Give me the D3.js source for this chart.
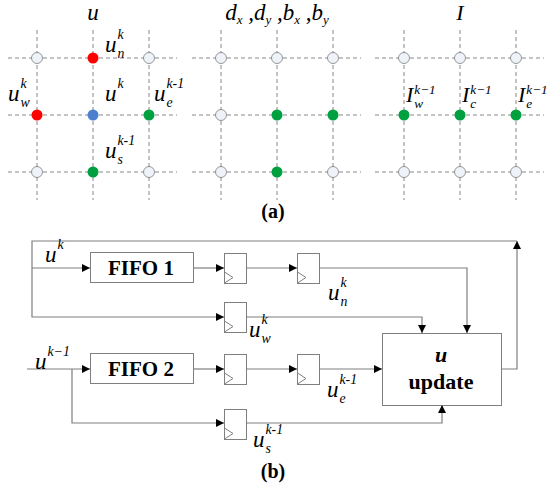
<!DOCTYPE html>
<html>
<head>
<meta charset="utf-8">
<script src="https://cdn.jsdelivr.net/npm/d3@7"></script>
<style>
  body { margin: 0; background: #fff; }
</style>
</head>
<body>
<div id="chart"></div>
<script>
// ---- panel (a): stencil grids ----
const gridIndex = [0, 1, 2];
const panelTitles = ["u", "d", "I"];
const panelLeft = [37, 221, 404];
// dot colour per panel, row-major (top row first)
const dotsU = ["none", "red", "none", "red", "blue", "green", "none", "green", "none"];
const dotsD = ["none", "none", "none", "none", "green", "green", "none", "green", "none"];
const dotsI = ["none", "none", "none", "green", "green", "green", "none", "none", "none"];
const dotSets = [dotsU, dotsD, dotsI];

// labels: [base, sup, sub, col, row]
const labelsU = [["u", "k", "n", 1, 0], ["u", "k", "w", 0, 1], ["u", "k", "", 1, 1],
                 ["u", "k-1", "e", 2, 1], ["u", "k-1", "s", 1, 2]];
const labelsI = [["I", "k\u22121", "w", 0, 1], ["I", "k\u22121", "c", 1, 1], ["I", "k\u22121", "e", 2, 1]];

// ---- panel (b): block diagram ----
const fifoNames = ["FIFO 1", "FIFO 2"];
const fifoRows = [268, 369];
const registers = [[224, 253], [297, 253], [224, 302], [224, 354], [297, 354], [224, 409]];
const wires = [
  [[501, 369], [517, 369], [517, 241]],
  [[517, 241], [32, 241], [32, 317], [224, 317]],
  [[32, 268], [90, 268]],
  [[193, 268], [224, 268]],
  [[246, 268], [297, 268]],
  [[320, 268], [467, 268], [467, 333]],
  [[246, 317], [422, 317], [422, 333]],
  [[27, 369], [90, 369]],
  [[72, 369], [72, 423], [224, 423]],
  [[193, 369], [224, 369]],
  [[246, 369], [297, 369]],
  [[319, 369], [382, 369]],
  [[246, 423], [442, 423], [442, 405]]
];
// [base, sup, sub, x, y]
const wireLabels = [["u", "k", "", 45, 262], ["u", "k\u22121", "", 35, 369],
                    ["u", "k", "n", 328, 300], ["u", "k", "w", 249, 337],
                    ["u", "k-1", "e", 327, 397], ["u", "k-1", "s", 253, 447]];

const dotColor = { red: "#ff0000", blue: "#4f7fcf", green: "#00a040", none: "#eef2f9" };

const svg = d3.select("#chart").append("svg")
  .attr("width", 548).attr("height", 487);

svg.append("defs").append("marker")
  .attr("id", "arrow")
  .attr("viewBox", "0 0 10 10")
  .attr("refX", 10).attr("refY", 5)
  .attr("markerUnits", "userSpaceOnUse")
  .attr("markerWidth", 9).attr("markerHeight", 8)
  .attr("orient", "auto")
  .append("path").attr("d", "M0,0L10,5L0,10z").attr("fill", "#000");

function txt(g) {
  return g.append("text").style("font-family", "Liberation Serif");
}

function mathLabel(g, x, y, base, sup, sub, size, supDy) {
  const b = txt(g).attr("x", x).attr("y", y)
    .attr("font-size", size).attr("font-style", "italic").text(base);
  const w = b.node().getComputedTextLength();
  if (sup) txt(g).attr("x", x + w + 1).attr("y", y + supDy)
    .attr("font-size", size * 0.6).attr("font-style", "italic").text(sup);
  if (sub) txt(g).attr("x", x + w + 1).attr("y", y + 5.5)
    .attr("font-size", size * 0.6).attr("font-style", "italic").text(sub);
}

const y = d3.scaleLinear().domain([0, 2]).range([58, 172]);

dotSets.forEach((dots, p) => {
  const x = d3.scaleLinear().domain([0, 2]).range([panelLeft[p], panelLeft[p] + 112]);
  const g = svg.append("g");
  g.selectAll(".v").data(gridIndex).join("line")
    .attr("x1", d => x(d)).attr("x2", d => x(d)).attr("y1", 30).attr("y2", 200)
    .attr("stroke", "#888").attr("stroke-dasharray", "4,3");
  g.selectAll(".h").data(gridIndex).join("line")
    .attr("x1", x(0) - 29).attr("x2", x(2) + 28).attr("y1", d => y(d)).attr("y2", d => y(d))
    .attr("stroke", "#888").attr("stroke-dasharray", "4,3");
  g.selectAll("circle").data(dots).join("circle")
    .attr("cx", (d, i) => x(i % 3)).attr("cy", (d, i) => y(Math.floor(i / 3)))
    .attr("r", 5.5)
    .attr("fill", d => dotColor[d])
    .attr("stroke", d => d === "none" ? "#7f7f7f" : "none")
    .attr("stroke-width", 0.8);

  if (p === 0) {
    txt(g).attr("x", x(1)).attr("y", 20).attr("text-anchor", "middle")
      .attr("font-size", 23).attr("font-style", "italic").text(panelTitles[p]);
    labelsU.forEach(l => {
      const lx = l[3] === 1 ? x(1) + 12 : (l[3] === 0 ? x(0) - 29 : x(2) + 5);
      const ly = l[4] === 0 ? 52 : (l[4] === 1 ? 101 : 158);
      mathLabel(g, lx, ly, l[0], l[1], l[2], 23, -13);
    });
  } else if (p === 1) {
    const t = txt(g).attr("x", x(1)).attr("y", 20).attr("text-anchor", "middle")
      .attr("font-size", 23).attr("font-style", "italic");
    [["d", "x"], ["d", "y"], ["b", "x"], ["b", "y"]].forEach((s, i) => {
      t.append("tspan").attr("dy", i ? -4 : 0).text((i ? " ," : "") + s[0]);
      t.append("tspan").attr("dy", 4).attr("font-size", 13).text(s[1]);
    });
  } else {
    txt(g).attr("x", x(1)).attr("y", 20).attr("text-anchor", "middle")
      .attr("font-size", 22).attr("font-style", "italic").text(panelTitles[p]);
    labelsI.forEach(l => mathLabel(g, x(l[3]) + 2, 102, l[0], l[1], l[2], 22, -8));
  }
});

txt(svg).attr("x", 273).attr("y", 218).attr("text-anchor", "middle")
  .attr("font-size", 20).attr("font-weight", "bold").text("(a)");

// ---- panel (b) drawing ----
const gb = svg.append("g");
const line = d3.line();

fifoNames.forEach((name, i) => {
  gb.append("rect").attr("x", 90.5).attr("y", fifoRows[i] - 15.5).attr("width", 103).attr("height", 30)
    .attr("fill", "#fff").attr("stroke", "#7f7f7f");
  txt(gb).attr("x", 141).attr("y", fifoRows[i] + 7).attr("text-anchor", "middle")
    .attr("font-size", 21).attr("font-weight", "bold").text(name);
});

registers.forEach(r => {
  gb.append("rect").attr("x", r[0] + 0.5).attr("y", r[1] + 0.5).attr("width", 22).attr("height", 30)
    .attr("fill", "#fff").attr("stroke", "#7f7f7f");
  gb.append("path").attr("d", `M${r[0] + 0.5},${r[1] + 19}L${r[0] + 9},${r[1] + 24.5}L${r[0] + 0.5},${r[1] + 30}`)
    .attr("fill", "none").attr("stroke", "#7f7f7f");
});

gb.append("rect").attr("x", 382.5).attr("y", 333.5).attr("width", 119).attr("height", 72)
  .attr("fill", "#fff").attr("stroke", "#7f7f7f");
txt(gb).attr("x", 441).attr("y", 362).attr("text-anchor", "middle")
  .attr("font-size", 22).attr("font-weight", "bold").attr("font-style", "italic").text("u");
txt(gb).attr("x", 441).attr("y", 389).attr("text-anchor", "middle")
  .attr("font-size", 22).attr("font-weight", "bold").text("update");

gb.selectAll("path.wire").data(wires).join("path")
  .attr("class", "wire")
  .attr("d", d => line(d))
  .attr("fill", "none").attr("stroke", "#7f7f7f").attr("stroke-width", 1.2)
  .attr("marker-end", "url(#arrow)");

wireLabels.forEach(l => mathLabel(gb, l[3], l[4], l[0], l[1], l[2], 23, -13));

txt(svg).attr("x", 273).attr("y", 478).attr("text-anchor", "middle")
  .attr("font-size", 20).attr("font-weight", "bold").text("(b)");
</script>
</body>
</html>
